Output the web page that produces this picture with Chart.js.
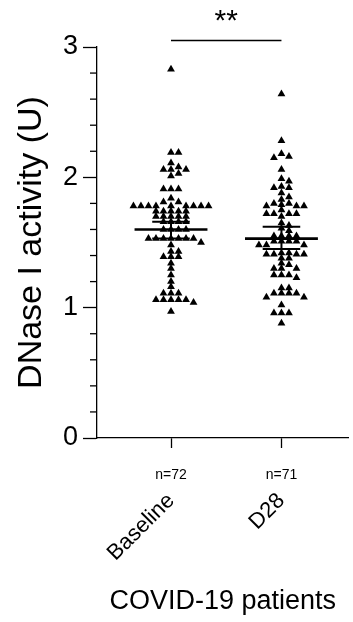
<!DOCTYPE html>
<html>
<head>
<meta charset="utf-8">
<script src="https://cdn.jsdelivr.net/npm/chart.js@4"></script>
<style>
  html, body { margin: 0; padding: 0; background: #fff; }
  #wrap { width: 353px; height: 622px; }
</style>
</head>
<body>
<div id="wrap"><canvas id="chart"></canvas></div>
<script>
// groups on the x axis
const groups = ['Baseline', 'D28'];
const groupN = ['n=72', 'n=71'];

// DNase I activity (U)
const baselineVals = [
  2.83,
  2.19, 2.19,
  2.11, 2.08, 2.06, 2.06, 2.06, 2.03, 2.01,
  1.91, 1.91, 1.91,
  1.84, 1.81, 1.81,
  1.78, 1.78, 1.78, 1.78, 1.78, 1.78, 1.78, 1.78, 1.78,
  1.74, 1.74, 1.74, 1.74, 1.74,
  1.70, 1.70, 1.70, 1.70, 1.70,
  1.66, 1.66, 1.66, 1.66,
  1.60, 1.60, 1.60, 1.60,
  1.53, 1.53, 1.53, 1.53, 1.53, 1.53, 1.53, 1.50, 1.48,
  1.43, 1.43, 1.39, 1.39, 1.39,
  1.34, 1.30, 1.25, 1.20, 1.16,
  1.11, 1.11, 1.11,
  1.06, 1.06, 1.06, 1.06, 1.06, 1.04,
  0.97
];
const d28Vals = [
  2.64, 2.28, 2.18, 2.16, 2.15, 2.06, 1.99, 1.97, 1.93, 1.92, 1.92, 1.88,
  1.85, 1.83, 1.80, 1.80, 1.79,
  1.78, 1.78, 1.78, 1.75,
  1.72, 1.72, 1.72, 1.72, 1.70,
  1.65, 1.63, 1.61, 1.59,
  1.55, 1.55, 1.55, 1.55,
  1.51, 1.51, 1.51, 1.51,
  1.48, 1.48, 1.48,
  1.42, 1.42, 1.41, 1.41, 1.41, 1.41, 1.38, 1.38,
  1.34, 1.33,
  1.30, 1.30, 1.30,
  1.25, 1.25, 1.25, 1.23,
  1.15, 1.15,
  1.11, 1.11, 1.11, 1.11,
  1.08, 1.08, 1.02,
  0.96, 0.96, 0.96, 0.88
];

// mean with 95% CI
const groupMean = [1.60, 1.53];
const ciLow = [1.53, 1.45];
const ciHigh = [1.66, 1.62];

// significance bracket
const sigPair = [1, 2];
const sigLevel = 3.05;
const sigLabel = '**';

const FONT = "'Liberation Sans', Arial, Helvetica, sans-serif";

// simple beeswarm: spread points sideways so they don't overlap
const DX = 0.068, DY = 0.036;
function swarm(values, center) {
  const placed = [];
  return values.slice().sort((a, b) => b - a).map(v => {
    for (let k = 0; k < 60; k++) {
      const off = (k % 2 ? 1 : -1) * Math.ceil(k / 2) * DX;
      const hit = placed.some(p => Math.abs(p.x - off) < DX * 0.99 && Math.abs(p.y - v) < DY);
      if (!hit) {
        placed.push({ x: off, y: v });
        return { x: center + off, y: v };
      }
    }
    return { x: center, y: v };
  });
}

function seg(x1, y1, x2, y2, w) {
  return {
    data: [{ x: x1, y: y1 }, { x: x2, y: y2 }],
    showLine: true,
    pointRadius: 0,
    borderColor: '#000',
    borderWidth: w,
    clip: false
  };
}

const lineSets = [];
groups.forEach((g, i) => {
  const c = i + 1;
  lineSets.push(seg(c - 0.33, groupMean[i], c + 0.33, groupMean[i], 2.6));
  lineSets.push(seg(c, ciLow[i], c, ciHigh[i], 2));
  lineSets.push(seg(c - 0.17, ciLow[i], c + 0.17, ciLow[i], 2));
  lineSets.push(seg(c - 0.17, ciHigh[i], c + 0.17, ciHigh[i], 2));
});
lineSets.push(seg(sigPair[0], sigLevel, sigPair[1], sigLevel, 1.3));

const pointSets = [baselineVals, d28Vals].map((vals, i) => ({
  data: swarm(vals, i + 1),
  pointStyle: 'triangle',
  pointRadius: 4.5,
  backgroundColor: '#000',
  borderWidth: 0
}));

// minor y ticks, n= labels and the stars
const extras = {
  id: 'extras',
  afterDraw(chart) {
    const { ctx, chartArea, scales: { x, y } } = chart;
    ctx.save();
    ctx.strokeStyle = '#000';
    ctx.lineWidth = 1.3;
    for (let i = 1; i < 15; i++) {
      if (i % 5 === 0) continue;
      const py = y.getPixelForValue(i * 0.2);
      ctx.beginPath();
      ctx.moveTo(chartArea.left - 7, py);
      ctx.lineTo(chartArea.left, py);
      ctx.stroke();
    }
    ctx.fillStyle = '#000';
    ctx.textAlign = 'center';
    ctx.textBaseline = 'middle';
    ctx.font = '14px ' + FONT;
    groupN.forEach((t, i) => ctx.fillText(t, x.getPixelForValue(i + 1), chartArea.bottom + 37));
    ctx.font = '30px ' + FONT;
    ctx.fillText(sigLabel, x.getPixelForValue((sigPair[0] + sigPair[1]) / 2), y.getPixelForValue(sigLevel) - 19);
    ctx.restore();
  }
};

new Chart(document.getElementById('chart'), {
  type: 'scatter',
  data: { datasets: lineSets.concat(pointSets) },
  plugins: [extras],
  options: {
    responsive: true,
    maintainAspectRatio: false,
    animation: false,
    layout: { padding: { top: 47, right: -4, left: 0, bottom: 0 } },
    plugins: { legend: { display: false }, tooltip: { enabled: false } },
    scales: {
      x: {
        type: 'linear',
        min: 0.33,
        max: 2.607,
        afterBuildTicks: s => { s.ticks = groups.map((g, i) => ({ value: i + 1 })); },
        ticks: {
          autoSkip: false,
          minRotation: 45,
          maxRotation: 45,
          padding: 40,
          color: '#000',
          font: { family: FONT, size: 22 },
          callback: v => groups[Math.round(v) - 1]
        },
        grid: { drawOnChartArea: false, tickLength: 10, tickColor: '#000', tickWidth: 1.3 },
        border: { color: '#000', width: 1.3 },
        title: {
          display: true,
          text: 'COVID-19 patients',
          color: '#000',
          font: { family: FONT, size: 27 },
          padding: { top: 0, bottom: 4 }
        },
        afterFit: s => { s.height = 184; s.paddingRight = 0; s.paddingLeft = 0; }
      },
      y: {
        min: 0,
        max: 3,
        ticks: { stepSize: 1, color: '#000', padding: 5, font: { family: FONT, size: 27 } },
        grid: { drawOnChartArea: false, tickLength: 14, tickColor: '#000', tickWidth: 1.3 },
        border: { color: '#000', width: 1.3 },
        title: {
          display: true,
          text: 'DNase I activity (U)',
          color: '#000',
          font: { family: FONT, size: 34 },
          padding: { top: 11, bottom: 0 }
        },
        afterFit: s => { s.width = 97; }
      }
    }
  }
});
</script>
</body>
</html>
